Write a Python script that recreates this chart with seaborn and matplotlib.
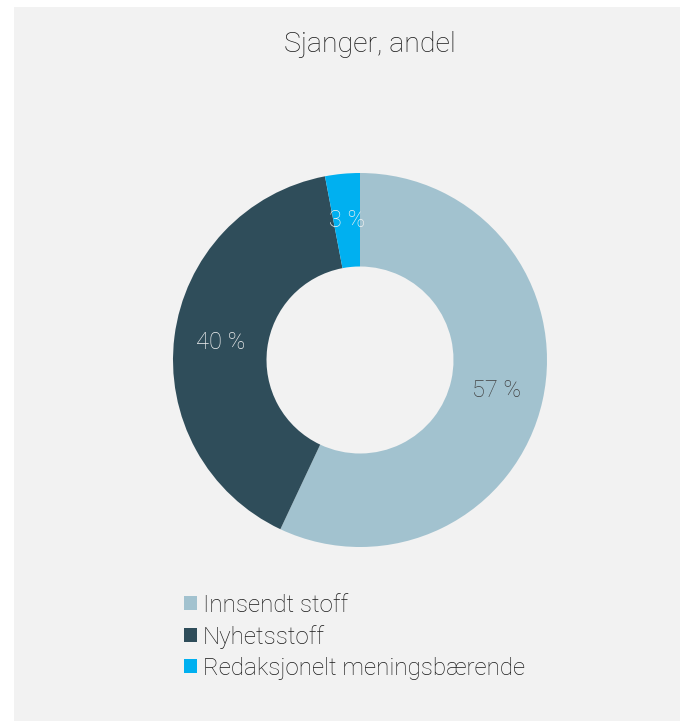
import matplotlib
matplotlib.use("Agg")
import numpy as np
import matplotlib.pyplot as plt
from matplotlib.patches import Rectangle, Patch
import seaborn as sns

categories = ["Innsendt stoff", "Nyhetsstoff", "Redaksjonelt meningsbærende"]
shares = [57, 40, 3]
colors = ["#a2c2cf", "#2f4d5a", "#00b0f0"]
label_colors = ["#404040", "#f2f2f2", "#f2f2f2"]
title = "Sjanger, andel"

sns.set_theme(style="white")
plt.rcParams["font.family"] = ["Roboto", "DejaVu Sans"]

W, H = 681, 721
fig = plt.figure(figsize=(W / 100, H / 100), dpi=100)
fig.patch.set_facecolor("white")
# grey chart panel
fig.patches.append(Rectangle((14 / W, 0), (680 - 14) / W, 1 - 7 / H,
                             transform=fig.transFigure, facecolor="#f2f2f2",
                             edgecolor="none", zorder=-10))

cx, cy, r = 360, 360, 187
ax = fig.add_axes([(cx - r) / W, 1 - (cy + r) / H, 2 * r / W, 2 * r / H])
ax.set_facecolor("none")

wedges, _ = ax.pie(shares, colors=colors, startangle=90, counterclock=False,
                   radius=1, wedgeprops=dict(width=0.5, linewidth=0))
ax.set_xlim(-1, 1)
ax.set_ylim(-1, 1)
ax.set_aspect("equal")
ax.axis("off")

for w, v, lc in zip(wedges, shares, label_colors):
    mid = np.deg2rad((w.theta1 + w.theta2) / 2)
    ax.text(0.75 * np.cos(mid), 0.75 * np.sin(mid), f"{v} %", ha="center",
            va="center", fontsize=17, color=lc, fontweight="light")

fig.text(370 / W, 1 - 44 / H, title, ha="center", va="center", fontsize=20.5,
         color="#1a1a1a", fontweight="light")

handles = [Patch(facecolor=c, edgecolor="none") for c in colors]
fig.legend(handles, categories, loc="upper left",
           bbox_to_anchor=(184 / W, 1 - 594 / H), frameon=False,
           handlelength=0.52, handleheight=0.52,
           handletextpad=0.25, labelspacing=0.33, borderpad=0, borderaxespad=0,
           labelcolor="#1a1a1a", prop={"weight": "light", "size": 17.4})

fig.savefig("out.png", dpi=100)
